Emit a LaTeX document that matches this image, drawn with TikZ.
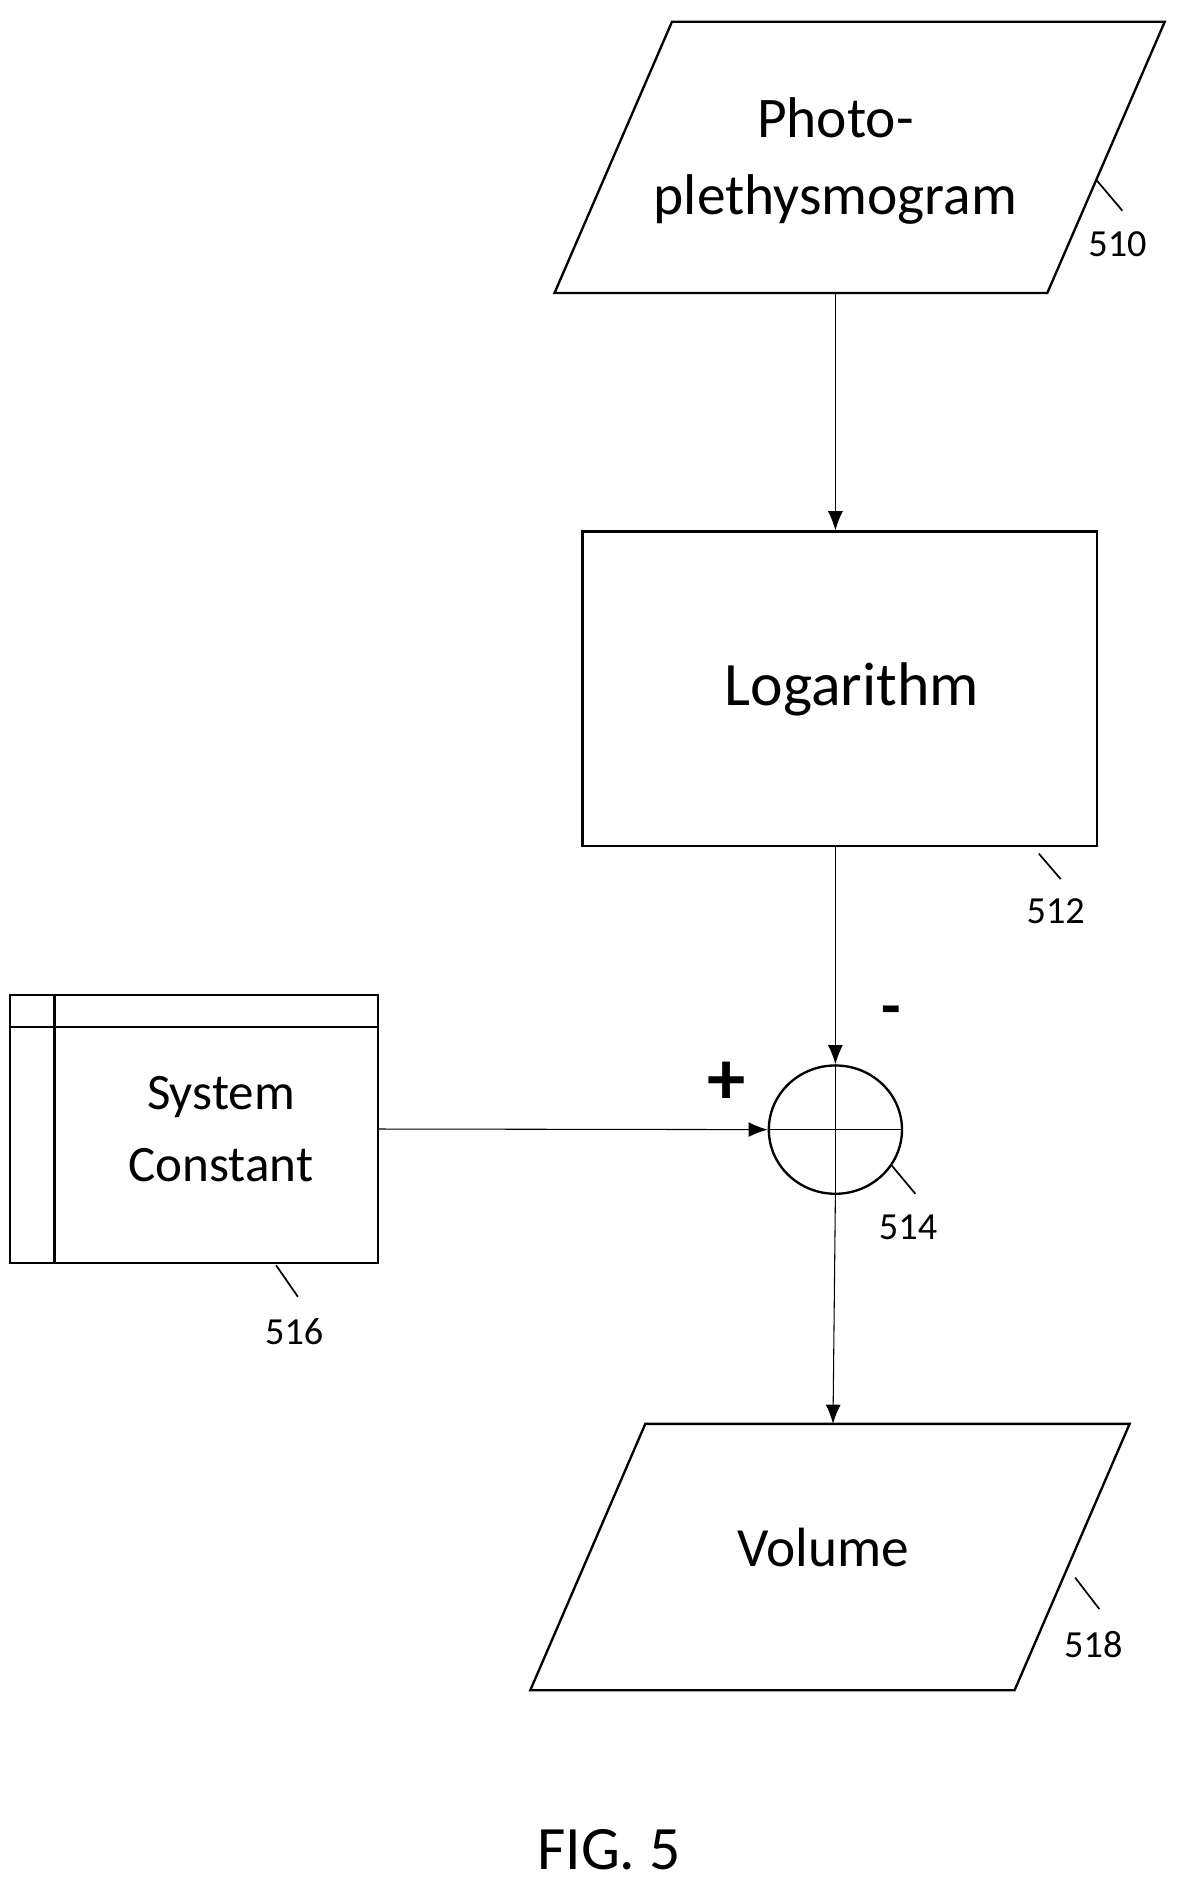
\documentclass[tikz,border=0pt]{standalone}
\usepackage{fontspec}
\setmainfont{Carlito}
\usetikzlibrary{arrows.meta,positioning,shapes.geometric}

\begin{document}
\begin{tikzpicture}[x=0.02cm,y=-0.02cm,
    box/.style={draw,line width=1.1pt,minimum width=8.5cm,minimum height=5.2cm,font=\fontsize{29}{32}\selectfont},
    conn/.style={-{Latex[length=9pt,width=7pt]},line width=0.5pt},
    lead/.style={line width=0.8pt},
    num/.style={font=\fontsize{18}{20}\selectfont}]
    \useasboundingbox (0,0) rectangle (982,1566);
    % input
    \draw[line width=1.1pt] (555,18) -- (962,18) -- (865,242) -- (458,242) -- cycle;
    \node[align=center,font=\fontsize{27}{36}\selectfont] (Ppg) at (690,133) {Photo-\\plethysmogram};
    \coordinate (PpgOut) at (690,242);
    \draw[lead] (905,148) -- (927,174);
    \node[num] (L510) at (923,202) {510};
    % logarithm
    \node[box] (Log) at (693.5,569) {\hspace{0.4cm}Logarithm};
    \draw[lead] (858,705) -- (876,726);
    \node[num] (L512) at (872,753) {512};
    % summing junction
    \node[draw,ellipse,line width=1.1pt,minimum width=2.2cm,minimum height=2.12cm,inner sep=0pt] (Sum) at (690,933) {};
    \draw[line width=0.8pt] (Sum.west) -- (Sum.east) (Sum.north) -- (Sum.south);
    \node[font=\fontsize{30}{30}\selectfont\bfseries] (Minus) at (736,840) {-};
    \node[font=\fontsize{36}{36}\selectfont\bfseries] (Plus) at (600,895) {+};
    \draw[lead] (736,962) -- (756,986);
    \node[num] (L514) at (750,1014) {514};
    % system constant
    \node[draw,line width=1.1pt,minimum width=6.08cm,minimum height=4.42cm,align=center,
          font=\fontsize{24}{34}\selectfont] (Const) at (160,932.5) {\hspace{0.9cm}System\\\hspace{0.9cm}Constant};
    \draw[line width=1.1pt] (8,848) -- (312,848) (45,822) -- (45,1043);
    \draw[lead] (228,1045) -- (246,1071);
    \node[num] (L516) at (243,1100) {516};
    % output
    \draw[line width=1.1pt] (533,1176) -- (933,1176) -- (838,1396) -- (438,1396) -- cycle;
    \node[font=\fontsize{26}{30}\selectfont] (Vol) at (680,1278) {Volume};
    \coordinate (VolIn) at (688,1176);
    \draw[lead] (888,1303) -- (908,1329);
    \node[num] (L518) at (903,1358) {518};
    % connectors
    \draw[conn] (PpgOut) -- (Log.north -| PpgOut);
    \draw[conn] (Log.south -| Sum.north) -- (Sum.north);
    \draw[conn] (Const.east) -- (Sum.west);
    \draw[conn] (Sum.south) -- (VolIn);
    \node[font=\fontsize{29}{30}\selectfont] (Fig) at (503,1528) {FIG. 5};
\end{tikzpicture}
\end{document}
